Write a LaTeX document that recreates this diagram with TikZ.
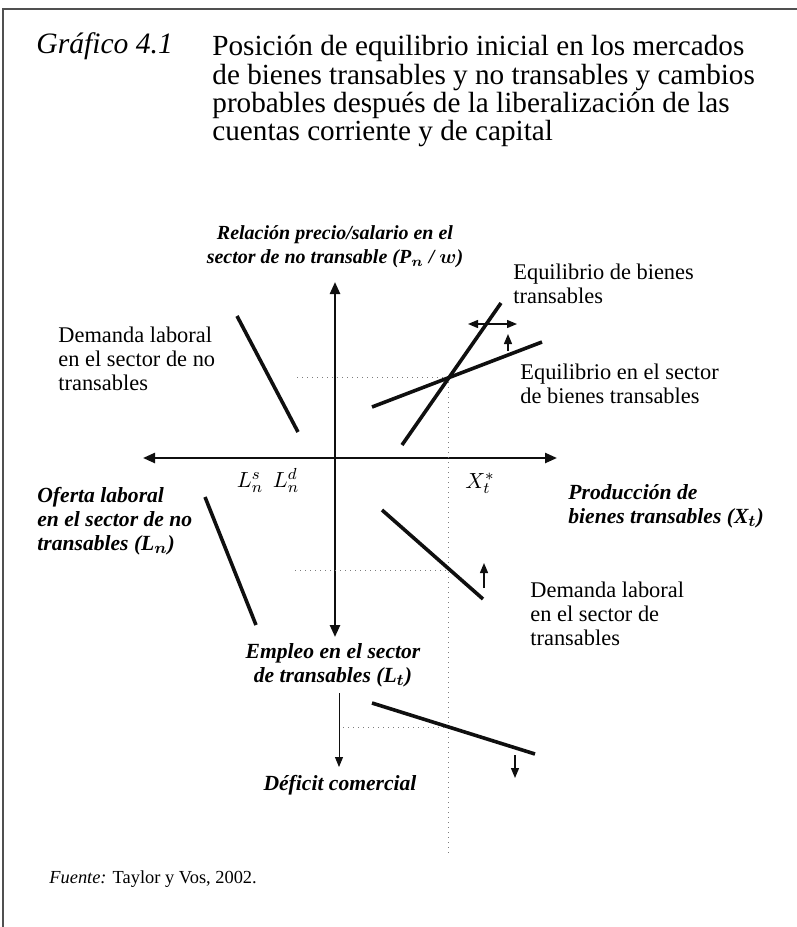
\documentclass[tikz,border=0pt]{standalone}
\usepackage{fontspec}
\setmainfont{Liberation Serif}
\usepackage{amsmath,bm}
\usetikzlibrary{arrows.meta,positioning}
\definecolor{InkK}  {RGB}{15, 15, 15}
\definecolor{GuideG}{RGB}{125,125,125}
\definecolor{FrameG}{RGB}{80, 80, 80}

\begin{document}
\begin{tikzpicture}[x=0.5pt,y=-0.5pt,
    axis/.style={line width=1.2pt,InkK,
      {Triangle[length=6pt,width=5pt]}-{Triangle[length=6pt,width=5pt]}},
    curve/.style={line width=1.8pt,InkK},
    move/.style={line width=0.7pt,InkK,-{Triangle[length=5pt,width=4pt]}},
    guide/.style={GuideG,dotted,line width=0.5pt},
    lbl/.style={inner sep=0pt,align=left,font=\fontsize{11.2}{12}\selectfont},
    axlbl/.style={inner sep=0pt,font=\fontsize{10.8}{12}\selectfont\bfseries\itshape}]
  \useasboundingbox (0,0) rectangle (797,927);
  \draw[FrameG,line width=1pt] (3,927) -- (3,9) -- (797,9);
  \node[anchor=base west,inner sep=0pt,font=\fontsize{14.8}{14.2}\selectfont\itshape]
    (fignum) at (36,53) {Gráfico 4.1};
  \node[anchor=north west,inner sep=0pt,align=left,font=\fontsize{14.6}{14.2}\selectfont]
    (title) at (212,35) {Posición de equilibrio inicial en los mercados\\
      de bienes transables y no transables y cambios\\
      probables después de la liberalización de las\\
      cuentas corriente y de capital};
  \coordinate (xW) at (143,458);
  \coordinate (xE) at (557,458);
  \coordinate (yN) at (335,282);
  \coordinate (yS) at (335,637);
  \draw[axis] (xW) -- (xE);
  \draw[axis] (yN) -- (yS);
  \coordinate (eq) at (448,377);
  \draw[guide] (eq) -- (448,855);
  \foreach \x/\y in {297/377,295/570,343/727}{
    \draw[guide] (\x,\y) -- (448,\y);}
  \foreach \n/\xa/\ya/\xb/\yb in {LnD/237/316/298/432, XtS/402/445/501/303,
                                  XtE/372/407/542/342, LnS/205/497/256/625,
                                  LtD/382/510/483/599, TB/372/703/535/754}{
    \coordinate (\n-a) at (\xa,\ya);
    \coordinate (\n-b) at (\xb,\yb);
    \draw[curve] (\n-a) -- (\n-b);}
  \coordinate (dL) at (468,324);
  \coordinate (dR) at (517,324);
  \draw[move,{Triangle[length=5pt,width=4pt]}-{Triangle[length=5pt,width=4pt]}] (dL) -- (dR);
  \draw[move] (508,351) -- (508,334);
  \draw[move] (484,588) -- (484,563);
  \draw[move] (515,755) -- (515,778);
  \node[axlbl,font=\fontsize{10}{12}\selectfont\bfseries\itshape,align=center,anchor=south]
    (ylbl) at (335,268)
    {Relación precio/salario en el\\ sector de no transable (P$_{\bm n}$ / $\bm w$)};
  \node[axlbl,align=left,anchor=north west] (xlbl) at (568,484)
    {Producción de\\ bienes transables (X$_{\bm t}$)};
  \node[axlbl,align=left,anchor=north west] (nlbl) at (37,487)
    {Oferta laboral\\ en el sector de no\\ transables (L$_{\bm n}$)};
  \node[axlbl,align=center,anchor=north] (tlbl) at (333,643)
    {Empleo en el sector\\ de transables (L$_{\bm t}$)};
  \node[axlbl,anchor=base] (def) at (340,790) {Déficit comercial};
  \coordinate (tTop) at (339,693);
  \coordinate (tBot) at (339,767);
  \draw[move,line width=0.5pt] (tTop) -- (tBot);
  \node[lbl,anchor=north west] (lnd) at (58,327)
    {Demanda laboral\\ en el sector de no\\ transables};
  \node[lbl,anchor=north west] (eqb) at (513,264)
    {Equilibrio de bienes\\ transables};
  \node[lbl,anchor=north west] (eqs) at (520,364)
    {Equilibrio en el sector\\ de bienes transables};
  \node[lbl,anchor=north west] (ltd) at (530,582)
    {Demanda laboral\\ en el sector de\\ transables};
  \node[anchor=base,inner sep=0pt,font=\fontsize{11}{12}\selectfont] (lns) at (250,487) {$L^s_n$};
  \node[anchor=base,inner sep=0pt,font=\fontsize{11}{12}\selectfont] (lnd2) at (286,487) {$L^d_n$};
  \node[anchor=base,inner sep=0pt,font=\fontsize{11}{12}\selectfont] (xst) at (480,488) {$X^*_t$};
  \node[anchor=base west,inner sep=0pt,font=\fontsize{9.2}{12}\selectfont] (src) at (49,883)
    {\textit{Fuente:} Taylor y Vos, 2002.};
\end{tikzpicture}
\end{document}
